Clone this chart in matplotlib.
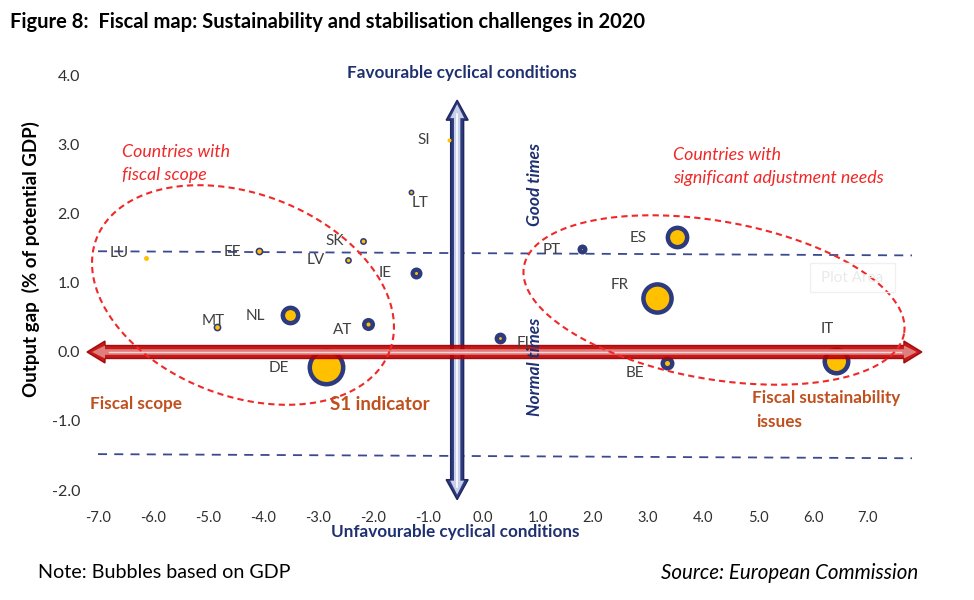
import numpy as np
import matplotlib.pyplot as plt
from matplotlib.patches import Polygon, Rectangle

plt.rcParams['font.family'] = ['Lato', 'DejaVu Sans']

# ---- data ----
countries = ['LU', 'EE', 'SK', 'LV', 'IE', 'MT', 'NL', 'AT', 'DE',
             'LT', 'SI', 'FI', 'PT', 'ES', 'FR', 'BE', 'IT']
s1_indicator = [-6.13, -4.07, -2.18, -2.45, -1.22, -4.84, -3.51, -2.09, -2.85,
                -1.31, -0.62, 0.31, 1.80, 3.52, 3.16, 3.35, 6.42]
output_gap = [1.36, 1.46, 1.61, 1.33, 1.14, 0.36, 0.54, 0.41, -0.22,
              2.32, 3.07, 0.20, 1.49, 1.67, 0.78, -0.16, -0.13]
gdp = [55, 140, 110, 105, 330, 140, 900, 390, 3300,
       80, 37, 320, 230, 1300, 2450, 450, 1800]

xticks = [-7, -6, -5, -4, -3, -2, -1, 0, 1, 2, 3, 4, 5, 6, 7]
yticks = [-2, -1, 0, 1, 2, 3, 4]

# dashed threshold lines (start, end)
upper_line = ([-7.0, 7.8], [1.46, 1.40])
lower_line = ([-7.0, 7.8], [-1.48, -1.54])

W, H = 974, 600
NAVY = '#2E3A7E'
YELLOW = '#FFC000'
BROWN = '#C0501E'
RED = '#F02828'

fig = plt.figure(figsize=(W / 100, H / 100), dpi=100)
xlim = (-7.25, 8.0)
ylim = (-2.3, 4.2)
ax = fig.add_axes([84.25 / W, 1 - 510.7 / H, 838.75 / W, 448.5 / H])
ax.set_xlim(*xlim)
ax.set_ylim(*ylim)
SX = 838.75 / (xlim[1] - xlim[0])   # px per unit
SY = 448.5 / (ylim[1] - ylim[0])

for s in ax.spines.values():
    s.set_visible(False)
ax.set_xticks(xticks)
ax.set_xticklabels(['%.1f' % v for v in xticks], fontsize=10.5,
                   family=['Liberation Sans Narrow', 'Lato'], color='#303030')
ax.set_yticks(yticks)
ax.set_yticklabels(['%.1f' % v for v in yticks], fontsize=11.5, color='#303030')
ax.tick_params(axis='x', length=0, pad=0)
ax.tick_params(axis='y', length=0, pad=3)


def ftext(xp, yp, s, **kw):
    fig.text(xp / W, 1 - yp / H, s, **kw)


def arrow_poly(x0, y0, x1, y1, hb, hh, hl):
    p0 = np.array([x0 * SX, y0 * SY])
    p1 = np.array([x1 * SX, y1 * SY])
    d = (p1 - p0) / np.linalg.norm(p1 - p0)
    n = np.array([-d[1], d[0]])
    a = p0 + d * hl
    b = p1 - d * hl
    pts = [p0, a + n * hh, a + n * hb, b + n * hb, b + n * hh, p1,
           b - n * hh, b - n * hb, a - n * hb, a - n * hh]
    return np.array(pts) / [SX, SY]


def dashed_ellipse(cx, cy, a, b, ang):
    # a, b in px, ang in degrees (screen, clockwise)
    t = np.linspace(0, 2 * np.pi, 300)
    phi = np.radians(ang)
    u, v = a * np.cos(t), b * np.sin(t)
    dx = u * np.cos(phi) - v * np.sin(phi)
    dy = u * np.sin(phi) + v * np.cos(phi)
    ax.plot(cx + dx / SX, cy - dy / SY, ls=(0, (3, 2)), color=RED, lw=1.5,
            zorder=6, clip_on=False)


# dashed threshold lines
ax.plot(*upper_line, ls=(0, (5, 4)), color='#3B4A8E', lw=1.3, zorder=1)
ax.plot(*lower_line, ls=(0, (5, 4)), color='#3B4A8E', lw=1.3, zorder=1)

# vertical navy arrow
vx = -0.47
ax.add_patch(Polygon(arrow_poly(vx, -2.14, vx, 3.65, 6.5, 11, 20), closed=True,
                     fc=NAVY, ec='#1E2860', lw=1, zorder=2, clip_on=False))
ax.add_patch(Polygon(arrow_poly(vx, -2.14 + 5 / SY, vx, 3.65 - 4 / SY, 3.2, 7, 14),
                     closed=True, fc='#C8D0EA', ec='none', zorder=2, clip_on=False))
ax.plot([vx, vx], [-1.95, 3.45], color='white', lw=1.2, zorder=2)

# bubbles
no_ring = ['LU', 'SI']
for c, x, y, g in zip(countries, s1_indicator, output_gap, gdp):
    d = 0.66 * np.sqrt(g)
    if c in no_ring:
        ax.scatter(x, y, s=(d * 0.72) ** 2, color=YELLOW, lw=0, zorder=3)
        continue
    ring = 4.5 if g >= 200 else 1.6
    ax.scatter(x, y, s=(d * 0.72) ** 2, color=NAVY, lw=0, zorder=3)
    inner = max(d - 2 * ring, 0)
    ax.scatter(x, y, s=(inner * 0.72) ** 2, color=YELLOW, lw=0, zorder=3)

# red horizontal arrow on top
ax.add_patch(Polygon(arrow_poly(-7.2, 0, 7.98, 0, 6.5, 11, 18), closed=True,
                     fc='#C00000', ec='#A00000', lw=1, alpha=0.9, zorder=4,
                     clip_on=False))
ax.add_patch(Polygon(arrow_poly(-7.2 + 5 / SX, 0, 7.98 - 5 / SX, 0, 2.8, 6.5, 13),
                     closed=True, fc='#E48A8A', ec='none', alpha=0.9, zorder=4,
                     clip_on=False))
ax.plot([-6.8, 7.6], [0, 0], color='#F8D5D5', lw=1.0, zorder=4)

# country labels, offsets in pixels (right, up)
label_off = {'LU': (-27, 5), 'EE': (-27, -1), 'SK': (-28, 0), 'LV': (-33, 0),
             'IE': (-31, 0), 'MT': (-4, 6), 'NL': (-35, -1), 'AT': (-25, -6),
             'DE': (-47, -1), 'LT': (9, -11), 'SI': (-25, 0), 'FI': (23, -5),
             'PT': (-30, -1), 'ES': (-38, -1), 'FR': (-37, 13), 'BE': (-32, -10),
             'IT': (-9, 32)}
for c, x, y in zip(countries, s1_indicator, output_gap):
    ax.annotate(c, (x, y), xytext=label_off[c], textcoords='offset pixels',
                ha='center', va='center', fontsize=11, color='#404040', zorder=5)

# ellipses
dashed_ellipse((243 - 483) / SX, (352 - 295) / SY, 157, 101, 21)
dashed_ellipse((714 - 483) / SX, (352 - 300) / SY, 193, 79, 10)

# annotations
ftext(10, 22, 'Figure 8:  Fiscal map: Sustainability and stabilisation challenges in 2020',
      fontsize=14.5, fontweight='bold', va='center')
ftext(31, 259, 'Output gap  (% of potential GDP)', rotation=90, fontsize=13.5,
      fontweight='bold', ha='center', va='center')
ftext(462, 73, 'Favourable cyclical conditions', fontsize=12.3, fontweight='bold',
      color='#1F3071', ha='center', va='center')
ftext(455, 532, 'Unfavourable cyclical conditions', fontsize=12.3, fontweight='bold',
      color='#1F3071', ha='center', va='center')
ftext(535, 185, 'Good times', rotation=90, fontsize=12.5, fontweight='bold',
      style='italic', color='#1F3071', ha='center', va='center', zorder=7)
ftext(535, 367, 'Normal times', rotation=90, fontsize=12.5, fontweight='bold',
      style='italic', color='#1F3071', ha='center', va='center', zorder=7)
ftext(122, 152, 'Countries with', fontsize=12.8, style='italic', color=RED, va='center')
ftext(122, 175, 'fiscal scope', fontsize=12.8, style='italic', color=RED, va='center')
ftext(673, 155, 'Countries with', fontsize=12.8, style='italic', color=RED, va='center')
ftext(673, 178, 'significant adjustment needs', fontsize=12.8, style='italic', color=RED,
      va='center')
ftext(90, 404, 'Fiscal scope', fontsize=12.3, fontweight='bold', color=BROWN, va='center')
ftext(330, 404, 'S1 indicator', fontsize=13.5, fontweight='bold', color=BROWN, va='center')
ftext(752, 398, 'Fiscal sustainability', fontsize=12.3, fontweight='bold', color=BROWN,
      va='center')
ftext(756, 422, 'issues', fontsize=12.3, fontweight='bold', color=BROWN, va='center')
fig.patches.append(Rectangle((810 / W, 1 - 292 / H), 85 / W, 29 / H, transform=fig.transFigure,
                             fc='none', ec='#F0F0F0', lw=1))
ftext(852, 278, 'Plot Area', fontsize=11, color='#EAEAEA', ha='center', va='center')
ftext(38, 573, 'Note: Bubbles based on GDP', fontsize=14.2, va='center')
ftext(918, 573, 'Source: European Commission', fontsize=14.8, style='italic',
      ha='right', va='center')

fig.savefig('out.png', dpi=100)
